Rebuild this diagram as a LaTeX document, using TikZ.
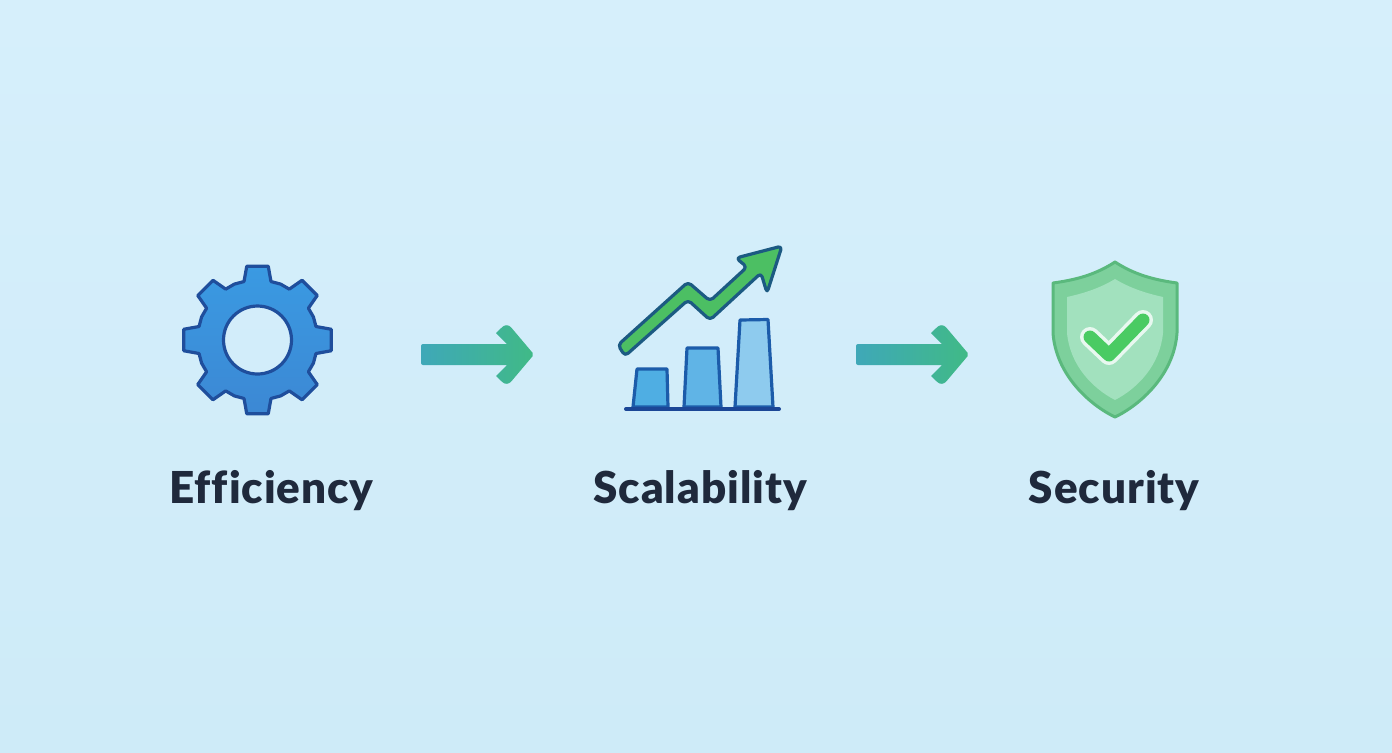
\documentclass[tikz,border=0pt]{standalone}
\usepackage{fontspec}
\setmainfont[Ligatures=NoCommon,LetterSpace=2.2,BoldFont={Lato Black}]{Lato}
\usetikzlibrary{arrows.meta,positioning,calc}
\definecolor{bgtop}{RGB}{214,239,251}
\definecolor{bgbottom}{RGB}{206,235,248}
\definecolor{geartop}{RGB}{58,154,226}
\definecolor{gearbottom}{RGB}{60,136,212}
\definecolor{gearline}{RGB}{31,78,156}
\definecolor{flowblue}{RGB}{63,168,184}
\definecolor{flowgreen}{RGB}{64,186,134}
\definecolor{barline}{RGB}{28,92,170}
\definecolor{baseblue}{RGB}{27,70,150}
\definecolor{trendgreen}{RGB}{76,191,99}
\definecolor{trendline}{RGB}{28,90,130}
\definecolor{shieldouter}{RGB}{125,208,156}
\definecolor{shieldinner}{RGB}{162,225,190}
\definecolor{shieldline}{RGB}{90,185,125}
\definecolor{checkgreen}{RGB}{74,203,99}
\definecolor{checkhalo}{RGB}{232,248,240}
\definecolor{labeltext}{RGB}{31,41,60}
\begin{document}
\begin{tikzpicture}[x=0.5pt,y=-0.5pt,
  iconbox/.style={minimum size=75pt, inner sep=0pt},
  title/.style={font=\fontsize{22}{26}\selectfont\bfseries, text=labeltext, anchor=base, inner sep=0pt},
  flow/.style={left color=flowblue, right color=flowgreen, rounded corners=0.6pt},
  bar/.style={draw=barline, line width=1.6pt, line join=round}]
\useasboundingbox (0,0) rectangle (1392,752);
% Background
\shade[top color=bgtop, bottom color=bgbottom] (0,0) rectangle (1392,752);
% Icon places
\node[iconbox] (gear) at (257.5,340) {};
\node[iconbox] (chart) at (700,328) {};
\node[iconbox] (shield) at (1115,340) {};
% Gear
\begin{scope}[shift={(gear.center)}]
\draw[top color=geartop, bottom color=gearbottom, draw=gearline, line width=1.6pt, line join=round, even odd rule]
  (-13:60) \foreach \a in {0,45,...,315} {
    -- (\a-13:60) -- (\a-8.3:74.5) -- (\a+8.3:74.5) -- (\a+13:60) -- (\a+22.5:60.5)
  } -- cycle (0,0) circle (34);
\end{scope}
% Arrows between the icons
\coordinate (flowa) at (421,354.5);
\coordinate (flowb) at (534,354.5);
\coordinate (flowc) at (856,354.5);
\coordinate (flowd) at (969,354.5);
\foreach \from/\to in {flowa/flowb,flowc/flowd}
  \shade[flow] (\from) [rounded corners=1pt] -- ++(0,-10.5) [sharp corners] -- ($(\to)+(-27,-10.5)$)
    -- ($(\to)+(-38,-21.5)$) [rounded corners=3.2pt] -- ($(\to)+(-27,-32)$) [rounded corners=1pt] -- (\to)
    [rounded corners=3.2pt] -- ($(\to)+(-27,32)$) [sharp corners] -- ($(\to)+(-38,21.5)$) -- ($(\to)+(-27,10.5)$)
    [rounded corners=1pt] -- ($(\from)+(0,10.5)$) -- cycle;
% Bars
\draw[bar, fill={rgb,255:red,79;green,174;blue,227}] (633,407) -- (637,369) -- (667,369) -- (668,407) -- cycle;
\draw[bar, fill={rgb,255:red,96;green,180;blue,230}] (684,407) -- (687,348) -- (718,348) -- (721,407) -- cycle;
\draw[bar, fill={rgb,255:red,142;green,203;blue,238}] (735,407) -- (740,320) -- (768,319.5) -- (773,407) -- cycle;
\draw[baseblue, line width=2pt, line cap=round] (626,409) -- (779,409);
% Trend arrow
\draw[fill=trendgreen, draw=trendline, line width=1.6pt, rounded corners=2pt, line join=round]
  (618,345) -- (688,282) -- (710,301) -- (747,267) -- (736,258) -- (782,246) -- (767,293)
  -- (761,273) -- (710,320) -- (688,300) -- (625,356) -- cycle;
% Shield
\draw[fill=shieldouter, draw=shieldline, line width=1.5pt, line join=round]
  (1115,262) .. controls (1095,275) and (1075,280) .. (1053,283) -- (1053,333)
  .. controls (1056,375) and (1090,405) .. (1115,417)
  .. controls (1140,405) and (1174,375) .. (1177,333) -- (1177,283)
  .. controls (1155,280) and (1135,275) .. (1115,262) -- cycle;
\fill[shieldinner]
  (1115,279) .. controls (1100,288) and (1085,293) .. (1067,297) -- (1067,333)
  .. controls (1070,365) and (1092,388) .. (1115,400)
  .. controls (1138,388) and (1160,365) .. (1163,333) -- (1163,297)
  .. controls (1145,293) and (1130,288) .. (1115,279) -- cycle;
\draw[checkhalo, line width=10pt, line cap=round, line join=round] (1090,337) -- (1109,355) -- (1143,320);
\draw[checkgreen, line width=6.5pt, line cap=round, line join=round] (1090,337) -- (1109,355) -- (1143,320);
% Labels
\node[title] (efficiency) at (271.5,503) {Efficiency};
\node[title] (scalability) at (700,503) {Scalability};
\node[title] (security) at (1114,503) {Security};
\end{tikzpicture}
\end{document}
